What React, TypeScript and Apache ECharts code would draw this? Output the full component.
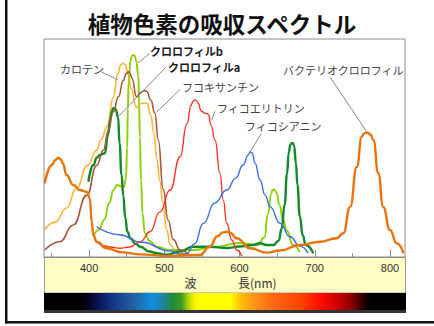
import React, { useEffect, useRef } from "react";
import * as echarts from "echarts";

// Wavelength axis (nm)
const WL_MIN = 340;
const WL_MAX = 820;
const majorTicks = [400, 500, 600, 700, 800];
const minorTicks = [350, 450, 550, 650, 750];

const titleText = "植物色素の吸収スペクトル";
const axisNameLeft = "波";
const axisNameRight = "長(nm)";

// Relative absorbance curves: [wavelength nm, absorbance 0-100]
const carotene: [number, number][] = [
  [341, 12.5], [355, 16], [370, 22.5], [383, 31.5], [398, 42], [410, 49], [416, 54],
  [424, 60], [432, 73], [438, 84], [442, 88], [445, 89], [448, 88.2], [452, 84], [456, 77],
  [463, 68.5], [470, 70.5], [477, 70.5], [482, 65], [486, 57], [490, 45], [494, 35],
  [498, 25], [503, 12.5], [508, 5.5], [516, 2], [530, 1.2],
];

const chlorophyllB: [number, number][] = [
  [405.6, 9.3], [413, 12.5], [420, 17], [427, 25], [432, 30.5], [437, 33], [442, 32.5],
  [446, 32], [449, 36], [450.5, 50], [451.5, 68], [452.5, 80], [455, 90], [457, 92.3],
  [458.8, 92.7], [460.8, 92.2], [462.5, 90], [465.5, 83], [466.5, 70], [467.5, 55],
  [469, 35], [471, 20], [474, 11], [480, 7.5], [490, 4.7], [507, 3.2], [538, 3.2],
  [567, 4.6], [600, 6.4], [624, 5.5], [633, 9], [638, 20], [642, 29], [644, 30.8],
  [645.5, 31], [647, 30.6], [649, 29.5], [653, 24], [658, 17], [663, 12], [671, 5.5],
  [680, 2.3],
];

const chlorophyllA: [number, number][] = [
  [399, 34.5], [405.6, 42.2], [410, 45.5], [414.5, 46.8], [421, 47.6], [425, 56],
  [428, 63], [430, 66.5], [432, 68.2], [434, 68.3], [435.5, 67.6], [438.5, 64],
  [440.5, 52], [443, 38], [445.5, 28], [448, 18], [451, 11.5], [455, 8.5], [462, 6],
  [468, 4.7], [480, 2.5], [490, 1.7], [503, 1], [520, 2.5], [538, 4.7], [561, 4.7],
  [583, 4.1], [600, 4.8], [618, 5.5], [627, 6.3], [636, 5.5], [645, 5.5], [652, 7.5],
  [656, 13], [660, 24], [663, 38], [665.5, 48], [667.5, 51.5], [669.4, 52.2],
  [671, 52.2], [672.5, 51.2], [675, 43], [677, 33], [680, 19], [684, 10], [688, 5.5],
  [698, 1.7],
];

const fucoxanthin: [number, number][] = [
  [341, 3.2], [361, 7], [379, 14.7], [397, 28.4], [410, 42], [419, 49], [425.5, 58],
  [432, 66.5], [439, 73.5], [445.5, 81], [449, 84], [452, 85], [454.5, 84.2], [457, 82],
  [463, 73.5], [469, 75.5], [473, 76.3], [476.5, 76], [482, 72], [487.5, 66], [492, 53.5],
  [498.5, 31], [505, 17], [512, 8], [521, 3.2], [534, 0.5],
];

const phycoerythrin: [number, number][] = [
  [412, 6.3], [428, 4.6], [441, 4], [454, 4.6], [468, 7], [481, 11.6], [494, 20.6],
  [507.6, 30.7], [521, 46], [530, 61], [535.5, 69.5], [538, 71.5], [540.8, 72],
  [543, 71.6], [545, 70.5], [549, 67], [554, 66], [558.5, 65.5], [562, 60.5],
  [567.4, 53.7], [574, 38.4], [578.4, 26], [583, 15.5], [589.6, 7.8], [596.3, 3.2],
  [603, 0.3],
];

const phycocyanin: [number, number][] = [
  [410, 13.9], [440, 10.2], [470, 6.8], [507, 2.8], [522, 1.2], [530, 1.5], [540, 6],
  [552, 15.5], [567, 24.8], [583, 30.7], [595, 36.2], [604.6, 42.2], [611.7, 46.8],
  [614, 48.3], [616.7, 47.7], [620.6, 43], [627.3, 35.3], [634, 28.4], [640.6, 23],
  [653.8, 15.5], [667, 9.3], [680.4, 5], [691, 1.8],
];

const bacteriochlorophyll: [number, number][] = [
  [341, 33.8], [350.6, 42.2], [355, 44.5], [359, 45.5], [362, 45], [365, 43], [370, 37.6],
  [379, 33], [388, 30.7], [397, 29.8], [401, 26.9], [403.4, 16.2], [405.6, 10.1],
  [410, 7], [423, 4], [445, 2.1], [468, 1.2], [503, 0.5], [547, 0.9], [560, 4.6],
  [571, 9.6], [578, 11.3], [583, 11.6], [588, 11], [596, 8.6], [614, 4], [636, 2],
  [654, 3], [680, 5.5], [707, 7], [729, 8.6], [738, 10.9], [747, 23], [756, 41.4],
  [762.5, 55.2], [766, 56.8], [770, 57], [774, 56.2], [778, 53.7], [784.5, 38.4],
  [791, 23], [800, 12.4], [809, 6.3], [818, 1.7],
];

const pigmentNames = [
  "カロテン",
  "クロロフィルb",
  "クロロフィルa",
  "フコキサンチン",
  "フィコエリトリン",
  "フィコシアニン",
  "バクテリオクロロフィル",
];

// Point on each curve that its callout line points to: [nm, absorbance]
const calloutTargets: [number, number][] = [
  [438.8, 81.2],
  [465, 89],
  [438.8, 64.4],
  [489.9, 66.5],
  [563, 62.8],
  [614, 48.3],
  [769, 57.5],
];

// Layout of the callout labels (pixels): text anchor and line start
const calloutLayout = [
  { tx: 60, ty: 69, lx: 101.5, ly: 72, bold: false },
  { tx: 150, ty: 51, lx: 149, ly: 54, bold: true },
  { tx: 168, ty: 67, lx: 166, ly: 67, bold: true },
  { tx: 182, ty: 86.5, lx: 180, ly: 89.5, bold: false },
  { tx: 217, ty: 107.5, lx: 215, ly: 111.5, bold: false },
  { tx: 245, ty: 126, lx: 261, ly: 134, bold: false },
  { tx: 283, ty: 70, lx: 330, ly: 77, bold: false },
];

const seriesStyle = [
  { data: carotene, color: "#ffb52e", width: 1.6 },
  { data: chlorophyllB, color: "#8fd10a", width: 2 },
  { data: chlorophyllA, color: "#128a2c", width: 2.4 },
  { data: fucoxanthin, color: "#a9573a", width: 1.6 },
  { data: phycoerythrin, color: "#ff3322", width: 1.4 },
  { data: phycocyanin, color: "#3b6fe0", width: 1.4 },
  { data: bacteriochlorophyll, color: "#e9730c", width: 2.4 },
];

const JP_FONT = "'Noto Sans CJK JP', 'Noto Sans', sans-serif";
const NUM_FONT = "'Liberation Sans', Arial, sans-serif";

const GRID = { left: 44, top: 39, width: 361, height: 218 };

export default function App() {
  const ref = useRef<HTMLDivElement>(null);

  useEffect(() => {
    if (!ref.current) return;
    const chart = echarts.init(ref.current, undefined, { renderer: "svg" });

    chart.setOption({
      animation: false,
      backgroundColor: "#ffffff",
      grid: {
        ...GRID,
        show: true,
        backgroundColor: "#ffffff",
        borderColor: "#8c8c8c",
        borderWidth: 1,
      },
      xAxis: [
        {
          type: "value",
          min: WL_MIN,
          max: WL_MAX,
          position: "bottom",
          axisLine: { show: true, lineStyle: { color: "#8c8c8c", width: 1 } },
          axisTick: {
            show: true,
            inside: true,
            length: 7,
            customValues: majorTicks,
            lineStyle: { color: "#8c8c8c" },
          },
          axisLabel: {
            show: true,
            customValues: majorTicks,
            margin: 5,
            color: "#333",
            fontSize: 11,
            fontFamily: NUM_FONT,
          },
          splitLine: { show: false },
        },
        {
          type: "value",
          min: WL_MIN,
          max: WL_MAX,
          position: "bottom",
          axisLine: { show: false },
          axisTick: {
            show: true,
            inside: true,
            length: 4,
            customValues: minorTicks,
            lineStyle: { color: "#8c8c8c" },
          },
          axisLabel: { show: false },
          splitLine: { show: false },
        },
      ],
      yAxis: { type: "value", min: 0, max: 100, show: false },
      series: seriesStyle.map((s, i) => ({
        type: "line",
        name: pigmentNames[i],
        data: s.data,
        xAxisIndex: 0,
        smooth: 0.5,
        smoothMonotone: "x",
        showSymbol: false,
        symbol: "none",
        lineStyle: { color: s.color, width: s.width },
        z: 3,
      })),
    });

    const leaders = calloutTargets.map((t, i) => {
      const p = chart.convertToPixel({ xAxisIndex: 0, yAxisIndex: 0 }, t) as number[];
      const l = calloutLayout[i];
      return {
        type: "line",
        z: 5,
        shape: { x1: l.lx, y1: l.ly, x2: p[0], y2: p[1] },
        style: { stroke: "#8a8a8a", lineWidth: 1 },
      };
    });

    const labels = pigmentNames.map((name, i) => {
      const l = calloutLayout[i];
      return {
        type: "text",
        z: 6,
        x: l.tx,
        y: l.ty,
        style: {
          text: name,
          fill: l.bold ? "#1a1a1a" : "#444",
          fontSize: 11,
          fontWeight: l.bold ? "bold" : "normal",
          fontFamily: JP_FONT,
          align: "left",
          verticalAlign: "middle",
          textAlign: "left",
          textVerticalAlign: "middle",
        },
      };
    });

    const bandX = GRID.left;
    const bandW = GRID.width;
    const bandTop = GRID.top + GRID.height;

    const spectrum = new echarts.graphic.LinearGradient(0, 0, 1, 0, [
      { offset: 0, color: "#000000" },
      { offset: 0.1, color: "#000000" },
      { offset: 0.13, color: "#03082a" },
      { offset: 0.16, color: "#0b1e66" },
      { offset: 0.2, color: "#163f8e" },
      { offset: 0.25, color: "#2363a6" },
      { offset: 0.3, color: "#0f8fe0" },
      { offset: 0.325, color: "#1c86a8" },
      { offset: 0.355, color: "#1f8a3a" },
      { offset: 0.38, color: "#3c9c1c" },
      { offset: 0.4, color: "#b4d80a" },
      { offset: 0.415, color: "#f2f200" },
      { offset: 0.43, color: "#ffff00" },
      { offset: 0.515, color: "#ffff00" },
      { offset: 0.545, color: "#ffbe00" },
      { offset: 0.575, color: "#ff9a1c" },
      { offset: 0.63, color: "#ff6a14" },
      { offset: 0.71, color: "#ff4200" },
      { offset: 0.765, color: "#ff0d00" },
      { offset: 0.81, color: "#cc0000" },
      { offset: 0.85, color: "#8a0000" },
      { offset: 0.88, color: "#2e0000" },
      { offset: 0.9, color: "#000000" },
      { offset: 1, color: "#000000" },
    ]);

    chart.setOption({
      graphic: {
        elements: [
          // page frame
          { type: "rect", z: 1, shape: { x: 5, y: 0, width: 2.5, height: 323.5 }, style: { fill: "#111" } },
          { type: "rect", z: 1, shape: { x: 5, y: 321, width: 429, height: 2.5 }, style: { fill: "#111" } },
          // wavelength band
          {
            type: "rect",
            z: -10,
            shape: { x: bandX + 0.5, y: bandTop, width: bandW, height: 36 },
            style: { fill: "#fffdc4", stroke: "#9a9a9a", lineWidth: 1 },
          },
          // visible spectrum strip
          {
            type: "rect",
            z: -10,
            shape: { x: bandX, y: bandTop + 36, width: bandW + 1, height: 17 },
            style: { fill: spectrum },
          },
          {
            type: "rect",
            z: -10,
            shape: { x: bandX, y: bandTop + 53, width: bandW + 1, height: 3 },
            style: { fill: "#333" },
          },
          // title
          {
            type: "text",
            z: 6,
            x: 222,
            y: 23,
            style: {
              text: titleText,
              fill: "#111",
              fontSize: 22.5,
              fontWeight: "bold",
              fontFamily: JP_FONT,
              align: "center",
              verticalAlign: "middle",
              textAlign: "center",
              textVerticalAlign: "middle",
            },
          },
          // axis name
          {
            type: "text",
            z: 6,
            x: 190.5,
            y: 282,
            style: {
              text: axisNameLeft,
              fill: "#333",
              fontSize: 12,
              fontFamily: JP_FONT,
              align: "center",
              verticalAlign: "middle",
              textAlign: "center",
              textVerticalAlign: "middle",
            },
          },
          {
            type: "text",
            z: 6,
            x: 238,
            y: 282,
            style: {
              text: axisNameRight,
              fill: "#333",
              fontSize: 12,
              fontFamily: JP_FONT,
              align: "left",
              verticalAlign: "middle",
              textAlign: "left",
              textVerticalAlign: "middle",
            },
          },
          ...leaders,
          ...labels,
        ],
      },
    });

    return () => chart.dispose();
  }, []);

  return (
    <div
      ref={ref}
      style={{ position: "absolute", left: 0, top: 0, width: 434, height: 326 }}
    />
  );
}
